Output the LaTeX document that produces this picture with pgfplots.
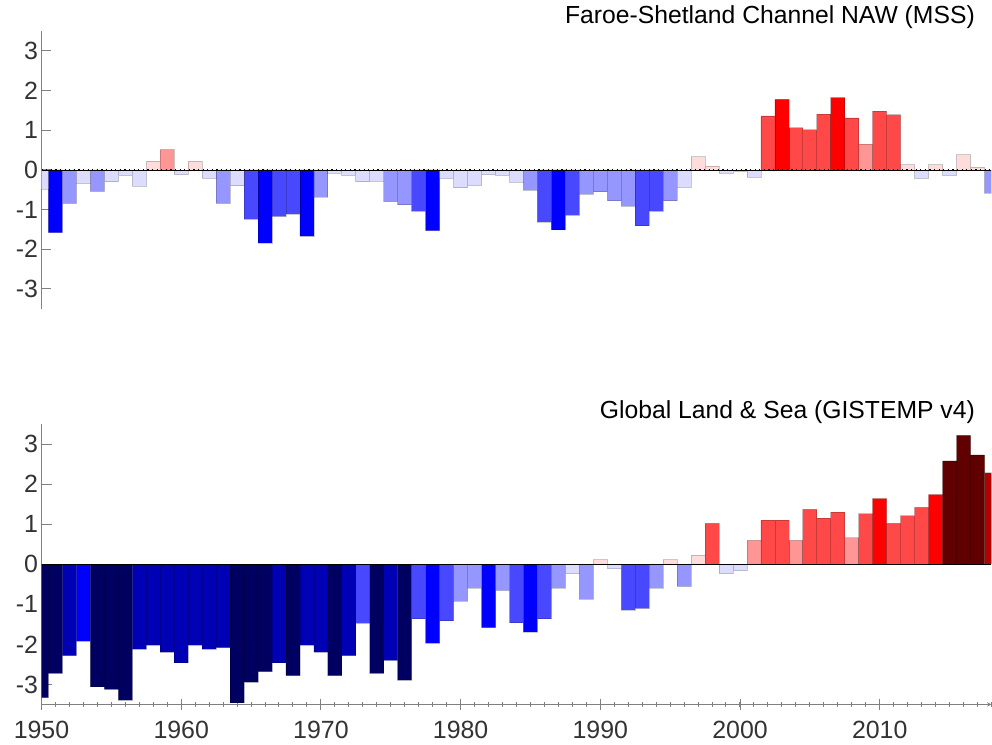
\documentclass[border=0pt]{standalone}
\usepackage{fontspec}
\setmainfont{Liberation Sans}
\usepackage{pgfplots}
\usepackage{pgfplotstable}
\pgfplotsset{compat=1.18}

\definecolor{bn3}{HTML}{000060}
\definecolor{bn2}{HTML}{0000B4}
\definecolor{bn1}{HTML}{0000FF}
\definecolor{bm1}{HTML}{4848FF}
\definecolor{bm2}{HTML}{9696FF}
\definecolor{bm3}{HTML}{DCDCFF}
\definecolor{rp3}{HTML}{FFDCDC}
\definecolor{rp2}{HTML}{FF9696}
\definecolor{rp1}{HTML}{FF4848}
\definecolor{rn1}{HTML}{FF0000}
\definecolor{rn2}{HTML}{B40000}
\definecolor{rn3}{HTML}{600000}

\pgfplotstableread{
year val
1950 -0.48
1951 -1.58
1952 -0.84
1953 -0.34
1954 -0.54
1955 -0.30
1956 -0.14
1957 -0.41
1958 0.22
1959 0.51
1960 -0.12
1961 0.22
1962 -0.21
1963 -0.84
1964 -0.40
1965 -1.24
1966 -1.84
1967 -1.17
1968 -1.11
1969 -1.67
1970 -0.68
1971 -0.08
1972 -0.14
1973 -0.30
1974 -0.28
1975 -0.80
1976 -0.88
1977 -1.04
1978 -1.53
1979 -0.21
1980 -0.45
1981 -0.39
1982 -0.12
1983 -0.14
1984 -0.31
1985 -0.51
1986 -1.31
1987 -1.51
1988 -1.14
1989 -0.61
1990 -0.55
1991 -0.78
1992 -0.91
1993 -1.41
1994 -1.04
1995 -0.78
1996 -0.44
1997 0.33
1998 0.10
1999 -0.08
2000 -0.03
2001 -0.18
2002 1.36
2003 1.78
2004 1.06
2005 1.01
2006 1.41
2007 1.82
2008 1.31
2009 0.65
2010 1.48
2011 1.39
2012 0.13
2013 -0.21
2014 0.13
2015 -0.14
2016 0.38
2017 0.07
2018 -0.58
}\fsc

\pgfplotstableread{
year val
1950 -3.33
1951 -2.72
1952 -2.28
1953 -1.92
1954 -3.06
1955 -3.12
1956 -3.39
1957 -2.12
1958 -2.02
1959 -2.19
1960 -2.46
1961 -2.02
1962 -2.12
1963 -2.08
1964 -3.46
1965 -2.94
1966 -2.68
1967 -2.46
1968 -2.78
1969 -2.02
1970 -2.19
1971 -2.78
1972 -2.28
1973 -1.47
1974 -2.72
1975 -2.40
1976 -2.89
1977 -1.36
1978 -1.97
1979 -1.41
1980 -0.92
1981 -0.59
1982 -1.58
1983 -0.65
1984 -1.46
1985 -1.69
1986 -1.36
1987 -0.59
1988 -0.23
1989 -0.87
1990 0.11
1991 -0.11
1992 -1.14
1993 -1.10
1994 -0.59
1995 0.11
1996 -0.55
1997 0.23
1998 1.02
1999 -0.23
2000 -0.16
2001 0.60
2002 1.10
2003 1.10
2004 0.60
2005 1.37
2006 1.15
2007 1.30
2008 0.66
2009 1.26
2010 1.64
2011 1.02
2012 1.21
2013 1.42
2014 1.74
2015 2.58
2016 3.22
2017 2.73
2018 2.29
}\gis

\pgfplotsset{
  barstyle/.style={ybar, bar width=1, bar shift=0pt, draw=black, draw opacity=0.2, line width=0.8bp},
  myaxis/.style={
    scale only axis, width=950bp,
    xmin=1950, xmax=2018, ymin=-3.5, ymax=3.5,
    ytick={-3,-2,-1,0,1,2,3}, yticklabels={-3,-2,-1,0,1,2,3},
    axis y line=left,
    axis line style={-, draw=black!50, line width=1bp},
    x axis line style={-}, y axis line style={-},
    tick align=inside, major tick length=10bp, minor tick length=5bp,
    every tick/.style={draw=black!50, line width=1bp},
    tick label style={font=\fontsize{25}{28}\selectfont, text=black!80},
    title style={font=\fontsize{24.8}{28}\selectfont, text=black, at={(1,1)}, anchor=base east, xshift=-16.5bp, inner sep=0pt},
    clip=true,
  }
}

\newcommand{\binbars}[1]{%
  \addplot[barstyle, fill=bn3, restrict y to domain=-10:-2.5] table[x=year,y=val]{#1};
  \addplot[barstyle, fill=bn2, restrict y to domain=-2.4999:-2.0] table[x=year,y=val]{#1};
  \addplot[barstyle, fill=bn1, restrict y to domain=-1.9999:-1.5] table[x=year,y=val]{#1};
  \addplot[barstyle, fill=bm1, restrict y to domain=-1.4999:-1.0] table[x=year,y=val]{#1};
  \addplot[barstyle, fill=bm2, restrict y to domain=-0.9999:-0.5] table[x=year,y=val]{#1};
  \addplot[barstyle, fill=bm3, restrict y to domain=-0.4999:-0.0001] table[x=year,y=val]{#1};
  \addplot[barstyle, fill=rp3, restrict y to domain=0.0001:0.4999] table[x=year,y=val]{#1};
  \addplot[barstyle, fill=rp2, restrict y to domain=0.5:0.9999] table[x=year,y=val]{#1};
  \addplot[barstyle, fill=rp1, restrict y to domain=1.0:1.4999] table[x=year,y=val]{#1};
  \addplot[barstyle, fill=rn1, restrict y to domain=1.5:1.9999] table[x=year,y=val]{#1};
  \addplot[barstyle, fill=rn2, restrict y to domain=2.0:2.4999] table[x=year,y=val]{#1};
  \addplot[barstyle, fill=rn3, restrict y to domain=2.5:10] table[x=year,y=val]{#1};
  \addplot[black, line width=0.5bp] coordinates {(1950,0) (2018,0)};
  \addplot[black, line width=1.4bp, dash pattern=on 1.2bp off 3.4bp] coordinates {(1950,0) (2018,0)};
}

\begin{document}
\begin{tikzpicture}
\useasboundingbox (0,0) rectangle (992bp,745bp);
\begin{axis}[myaxis, height=277.7bp, at={(41.5bp,436.2bp)}, anchor=south west,
  axis x line=none, xtick=\empty,
  title={Faroe-Shetland Channel NAW (MSS)}, title style={yshift=2bp}]
\binbars{\fsc}
\end{axis}
\begin{axis}[myaxis, height=280.4bp, at={(41.5bp,40.5bp)}, anchor=south west,
  axis x line=bottom,
  xtick={1950,1960,1970,1980,1990,2000,2010},
  xticklabels={1950,1960,1970,1980,1990,2000,2010},
  minor xtick={1950,...,2018},
  major tick length=11bp,
  xticklabel style={yshift=-8bp},
  title={Global Land \& Sea (GISTEMP v4)}]
\binbars{\gis}
\end{axis}
\end{tikzpicture}
\end{document}
